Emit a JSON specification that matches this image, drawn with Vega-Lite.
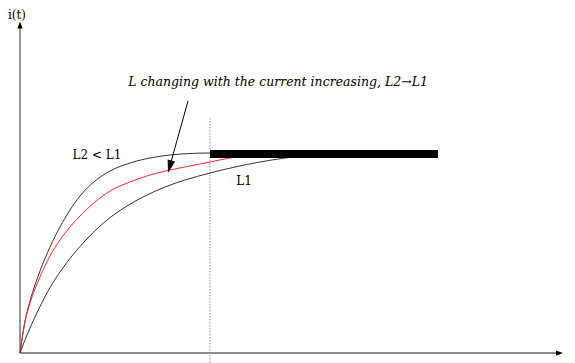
{
  "$schema": "https://vega.github.io/schema/vega-lite/v6.json",
  "width": 575,
  "height": 363,
  "padding": 0,
  "autosize": {"type": "none"},
  "background": "white",
  "config": {"view": {"stroke": null}},
  "datasets": {
    "curves": [
      {"s": "L2", "t": 0, "i": 0}, {"s": "L2", "t": 2, "i": 14}, {"s": "L2", "t": 5, "i": 32}, {"s": "L2", "t": 10, "i": 52},
      {"s": "L2", "t": 15, "i": 68}, {"s": "L2", "t": 20, "i": 82}, {"s": "L2", "t": 30, "i": 106}, {"s": "L2", "t": 40, "i": 126},
      {"s": "L2", "t": 50, "i": 143}, {"s": "L2", "t": 60, "i": 157}, {"s": "L2", "t": 75, "i": 172}, {"s": "L2", "t": 90, "i": 182},
      {"s": "L2", "t": 110, "i": 190}, {"s": "L2", "t": 130, "i": 195}, {"s": "L2", "t": 150, "i": 198}, {"s": "L2", "t": 170, "i": 199.5},
      {"s": "L2", "t": 190, "i": 200}, {"s": "L2", "t": 220, "i": 200},
      {"s": "Lv", "t": 0, "i": 0}, {"s": "Lv", "t": 2, "i": 14}, {"s": "Lv", "t": 5, "i": 31}, {"s": "Lv", "t": 10, "i": 50},
      {"s": "Lv", "t": 15, "i": 64}, {"s": "Lv", "t": 20, "i": 76}, {"s": "Lv", "t": 30, "i": 97}, {"s": "Lv", "t": 40, "i": 113},
      {"s": "Lv", "t": 50, "i": 126}, {"s": "Lv", "t": 60, "i": 137}, {"s": "Lv", "t": 75, "i": 151}, {"s": "Lv", "t": 90, "i": 162},
      {"s": "Lv", "t": 110, "i": 171}, {"s": "Lv", "t": 130, "i": 178}, {"s": "Lv", "t": 150, "i": 183}, {"s": "Lv", "t": 170, "i": 187},
      {"s": "Lv", "t": 190, "i": 191}, {"s": "Lv", "t": 210, "i": 195}, {"s": "Lv", "t": 230, "i": 197.5}, {"s": "Lv", "t": 260, "i": 199},
      {"s": "L1", "t": 0, "i": 0}, {"s": "L1", "t": 3, "i": 8}, {"s": "L1", "t": 7, "i": 18}, {"s": "L1", "t": 15, "i": 36},
      {"s": "L1", "t": 28, "i": 62}, {"s": "L1", "t": 45, "i": 88}, {"s": "L1", "t": 65, "i": 112}, {"s": "L1", "t": 87, "i": 133},
      {"s": "L1", "t": 107, "i": 147}, {"s": "L1", "t": 125, "i": 157}, {"s": "L1", "t": 145, "i": 166}, {"s": "L1", "t": 165, "i": 173},
      {"s": "L1", "t": 190, "i": 180}, {"s": "L1", "t": 215, "i": 186}, {"s": "L1", "t": 240, "i": 191}, {"s": "L1", "t": 265, "i": 195},
      {"s": "L1", "t": 290, "i": 198}, {"s": "L1", "t": 320, "i": 199.5}
    ],
    "axes": [
      {"t": 0, "i": 0, "t2": 0, "i2": 326},
      {"t": 0, "i": 0, "t2": 536, "i2": 0}
    ],
    "bar": [{"t": 190, "i": 199, "t2": 418, "i2": 199}],
    "dotted": [{"t": 190, "i": 235, "t2": 190, "i2": -10}],
    "pointer": [{"t": 168, "i": 252, "t2": 149.7, "i2": 186.3}],
    "pointerHead": [{"t": 149.7, "i": 186.3}],
    "yHead": [{"t": 0, "i": 328}],
    "xHead": [{"t": 539.5, "i": 0}],
    "labels": [
      {"txt": "i(t)", "t": -3, "i": 334},
      {"txt": "L2 < L1", "t": 77, "i": 194},
      {"txt": "L1", "t": 224, "i": 168}
    ],
    "note": [{"txt": "L changing with the current increasing, L2\u2192L1", "t": 258, "i": 267}]
  },
  "encoding": {
    "x": {"field": "t", "type": "quantitative", "scale": {"domain": [-20, 555], "nice": false, "zero": false}, "axis": null},
    "y": {"field": "i", "type": "quantitative", "scale": {"domain": [-10, 353], "nice": false, "zero": false}, "axis": null}
  },
  "layer": [
    {
      "data": {"name": "dotted"},
      "mark": {"type": "rule", "stroke": "#888888", "strokeWidth": 1, "strokeDash": [1.5, 1.5]},
      "encoding": {"x2": {"field": "t2"}, "y2": {"field": "i2"}}
    },
    {
      "data": {"name": "axes"},
      "mark": {"type": "rule", "stroke": "#8c8c8c", "strokeWidth": 1.8},
      "encoding": {"x2": {"field": "t2"}, "y2": {"field": "i2"}}
    },
    {
      "data": {"name": "yHead"},
      "mark": {"type": "point", "filled": true, "color": "#000000", "opacity": 1, "size": 49, "shape": "M0,-1L-0.75,1L0.75,1Z"},
      "encoding": {}
    },
    {
      "data": {"name": "xHead"},
      "mark": {"type": "point", "filled": true, "color": "#000000", "opacity": 1, "size": 49, "shape": "M1,0L-1,-0.75L-1,0.75Z"},
      "encoding": {}
    },
    {
      "data": {"name": "curves"},
      "mark": {"type": "line", "strokeWidth": 1, "interpolate": "monotone"},
      "encoding": {
        "detail": {"field": "s"},
        "color": {"field": "s", "type": "nominal", "scale": {"domain": ["L2", "Lv", "L1"], "range": ["#333333", "#ff2a2a", "#333333"]}, "legend": null}
      }
    },
    {
      "data": {"name": "bar"},
      "mark": {"type": "rule", "stroke": "#000000", "strokeWidth": 8, "strokeCap": "butt"},
      "encoding": {"x2": {"field": "t2"}, "y2": {"field": "i2"}}
    },
    {
      "data": {"name": "pointer"},
      "mark": {"type": "rule", "stroke": "#000000", "strokeWidth": 1},
      "encoding": {"x2": {"field": "t2"}, "y2": {"field": "i2"}}
    },
    {
      "data": {"name": "pointerHead"},
      "mark": {"type": "point", "filled": true, "color": "#000000", "opacity": 1, "size": 169, "shape": "M0,1L-0.6,-1L0.6,-1Z", "angle": 15.5},
      "encoding": {}
    },
    {
      "data": {"name": "labels"},
      "mark": {"type": "text", "font": "DejaVu Serif", "fontSize": 12, "color": "#000000", "align": "center", "baseline": "alphabetic"},
      "encoding": {"text": {"field": "txt"}}
    },
    {
      "data": {"name": "note"},
      "mark": {"type": "text", "font": "DejaVu Serif", "fontSize": 12.5, "fontStyle": "italic", "color": "#000000", "align": "center", "baseline": "alphabetic"},
      "encoding": {"text": {"field": "txt"}}
    }
  ]
}
